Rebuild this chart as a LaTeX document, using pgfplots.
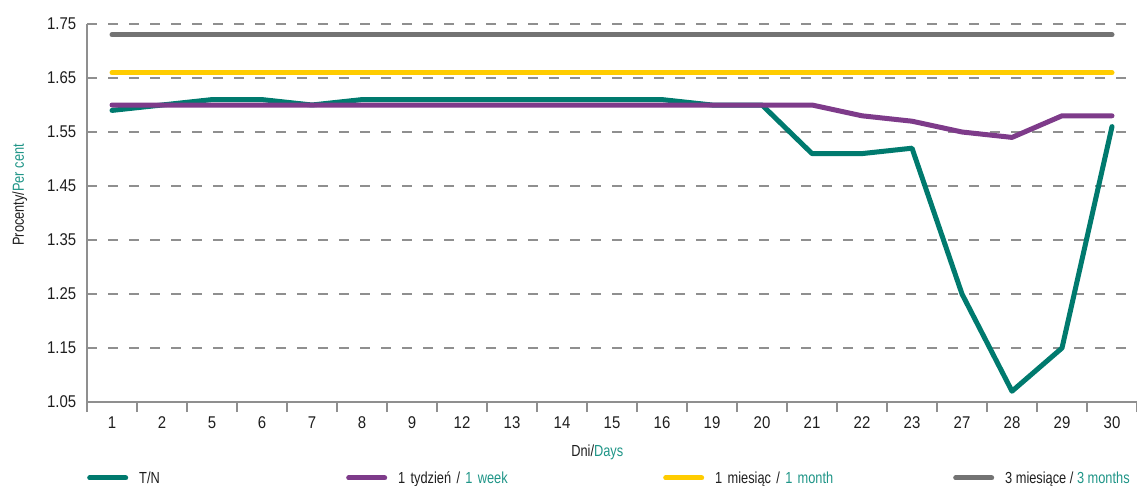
\documentclass[border=0pt]{standalone}
\usepackage{pgfplots}
\pgfplotsset{compat=1.18}
\usepackage{fontspec}
\setmainfont{Liberation Sans}[FakeStretch=0.88]
\newfontfamily\condfont{Liberation Sans}[FakeStretch=0.8]
\definecolor{tn}{HTML}{007A6E}
\definecolor{wk}{HTML}{7E3B8A}
\definecolor{mo}{HTML}{FFCC00}
\definecolor{tm}{HTML}{737373}
\definecolor{tl}{HTML}{1F9587}
\definecolor{gridc}{HTML}{8F8F8F}
\definecolor{txt}{HTML}{1E1E1E}
\pgfplotstableread{
i tn wk mo tm
0 1.59 1.60 1.66 1.73
1 1.60 1.60 1.66 1.73
2 1.61 1.60 1.66 1.73
3 1.61 1.60 1.66 1.73
4 1.60 1.60 1.66 1.73
5 1.61 1.60 1.66 1.73
6 1.61 1.60 1.66 1.73
7 1.61 1.60 1.66 1.73
8 1.61 1.60 1.66 1.73
9 1.61 1.60 1.66 1.73
10 1.61 1.60 1.66 1.73
11 1.61 1.60 1.66 1.73
12 1.60 1.60 1.66 1.73
13 1.60 1.60 1.66 1.73
14 1.51 1.60 1.66 1.73
15 1.51 1.58 1.66 1.73
16 1.52 1.57 1.66 1.73
17 1.25 1.55 1.66 1.73
18 1.07 1.54 1.66 1.73
19 1.15 1.58 1.66 1.73
20 1.56 1.58 1.66 1.73
}\data
\begin{document}
\begin{tikzpicture}
\path[use as bounding box] (0,0) rectangle (1137pt,485pt);
\begin{axis}[
  at={(87pt,83pt)}, anchor=south west,
  scale only axis, width=1050pt, height=378pt,
  xmin=-0.5, xmax=20.5, ymin=1.05, ymax=1.75,
  axis x line*=bottom, axis y line*=left,
  axis line style={gridc, line width=1.5pt, -},
  xtick={0,...,20},
  xticklabels={1,2,5,6,7,8,9,12,13,14,15,16,19,20,21,22,23,27,28,29,30},
  major x tick style={draw=none},
  minor xtick={-0.5,0.5,...,20.5},
  minor tick length=10pt,
  minor x tick style={gridc, line width=1.5pt},
  xtick pos=bottom, tick align=outside,
  ytick={1.05,1.15,...,1.76},
  major y tick style={draw=none},
  y tick label style={/pgf/number format/fixed, /pgf/number format/fixed zerofill, /pgf/number format/precision=2},
  /pgf/number format/assume math mode=true,
  ymajorgrids,
  major grid style={gridc, line width=1.4pt, dash pattern=on 10pt off 11pt},
  ticklabel style={font=\fontsize{17}{19}\selectfont, text=txt},
  x tick label style={yshift=-7pt},
  y tick label style={xshift=-3pt},
  xlabel={Dni/\textcolor{tl}{Days}},
  xlabel style={at={(axis description cs:0.486,-0.132)}, anchor=center, font=\condfont\fontsize{16}{18}\selectfont, text=txt},
  ylabel={Procenty/\textcolor{tl}{Per cent}},
  ylabel style={at={(axis description cs:-0.064,0.548)}, anchor=center, font=\condfont\fontsize{16}{18}\selectfont, text=txt},
  clip=false,
  every axis plot/.append style={line width=5pt, line join=round, line cap=round},
  legend image code/.code={\draw[#1, line width=5pt, line cap=round] (0pt,0pt) -- (36pt,0pt);},
  legend columns=4,
  legend style={at={(axis description cs:0,-0.201)}, anchor=west, draw=none, fill=none,
    font=\condfont\fontsize{16}{18}\selectfont, text=txt, inner sep=0pt,
    /tikz/every odd column/.append style={column sep=10pt},
    nodes={anchor=west, inner sep=1pt}},
  legend cell align=left,
]
\addplot[tn] table[x=i,y=tn]{\data};
\addlegendentry[text width=206pt]{T/N}
\addplot[wk] table[x=i,y=wk]{\data};
\addlegendentry[text width=264pt]{1 tydzień / \textcolor{tl}{1 week}}
\addplot[mo] table[x=i,y=mo]{\data};
\addlegendentry[text width=237pt]{1 miesiąc / \textcolor{tl}{1 month}}
\addplot[tm] table[x=i,y=tm]{\data};
\addlegendentry{3 miesiące / \textcolor{tl}{3 months}}
\end{axis}
\end{tikzpicture}
\end{document}
